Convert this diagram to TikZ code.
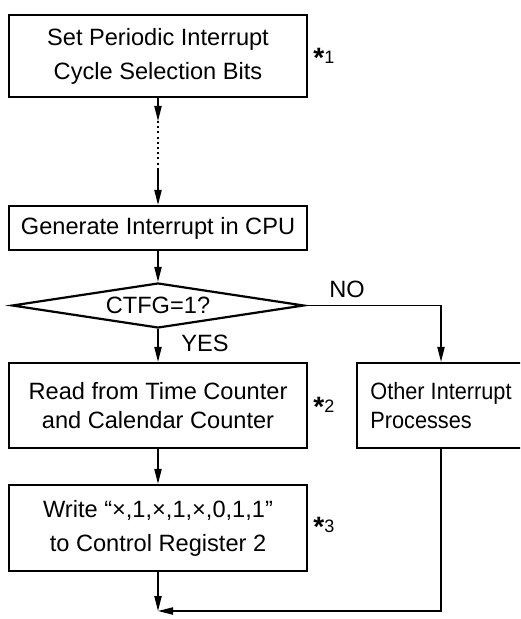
\documentclass[tikz,border=0pt]{standalone}
\usepackage{fontspec}
\setmainfont{Liberation Sans}
\newfontfamily\narrowsans[FakeStretch=0.92]{Liberation Sans}
\usetikzlibrary{positioning, shapes.geometric, arrows.meta}

\newcommand{\starnote}[1]{{\fontsize{14}{14}\selectfont\raisebox{-0.3ex}{\textbf{*}}}#1}

\begin{document}
\begin{tikzpicture}[x=0.5pt, y=-0.5pt,
    box/.style={draw, line width=1.1pt, minimum width=149pt, align=center, inner sep=0pt, font=\fontsize{11.8}{17}\selectfont},
    flow/.style={-{Triangle[length=7.5pt, width=3.6pt]}, line width=0.75pt},
    note/.style={anchor=west, inner sep=0pt, font=\fontsize{9}{11}\selectfont},
    tag/.style={inner sep=0pt, font=\fontsize{11.8}{14}\selectfont}]
  \useasboundingbox (0,0) rectangle (520,619);
  \clip (0,0) rectangle (520,619);

  \node[box, minimum height=41pt] (set) at (158,56) {Set Periodic Interrupt\\Cycle Selection Bits};
  \node[box, minimum height=22pt] (gen) at (158,228) {Generate Interrupt in CPU};
  \node[draw, diamond, aspect=6.5, line width=1.1pt, minimum width=146pt, minimum height=22.5pt, inner sep=0pt, font=\fontsize{11.8}{14}\selectfont] (ctfg) at (158,305.5) {CTFG=1?};
  \node[box, minimum height=42.5pt, font=\fontsize{11.8}{14.5}\selectfont] (read) at (158,405.5) {Read from Time Counter\\and Calendar Counter};
  \node[draw, line width=1.1pt, minimum width=84pt, minimum height=42.5pt, inner sep=0pt, align=left, font=\narrowsans\fontsize{11.8}{14.5}\selectfont] (other) at (441,405.5) {Other Interrupt\\Processes};
  \node[box, minimum height=43pt] (write) at (158,528) {Write “×,1,×,1,×,0,1,1”\\to Control Register 2};

  \coordinate (d1) at (158,121);
  \coordinate (d2) at (158,170);
  \coordinate (join) at (158,611);

  \draw[flow] (set) -- (d1);
  \draw[line width=0.75pt, dash pattern=on 1pt off 1.6pt] (d1) -- (d2);
  \draw[flow] (d2) -- (gen);
  \draw[flow] (gen) -- (ctfg);
  \draw[flow] (ctfg) -- (read);
  \draw[flow] (ctfg.east) -| (other.north);
  \draw[flow] (read) -- (write);
  \draw[flow] (write) -- (join);
  \draw[flow] (other.south) |- (join);

  \node[tag] (nolabel) at (347,289) {NO};
  \node[tag] (yeslabel) at (205,343) {YES};

  \node[note] (note1) at (313,58) {\starnote{1}};
  \node[note] (note2) at (313,407) {\starnote{2}};
  \node[note] (note3) at (313,527) {\starnote{3}};
\end{tikzpicture}
\end{document}
